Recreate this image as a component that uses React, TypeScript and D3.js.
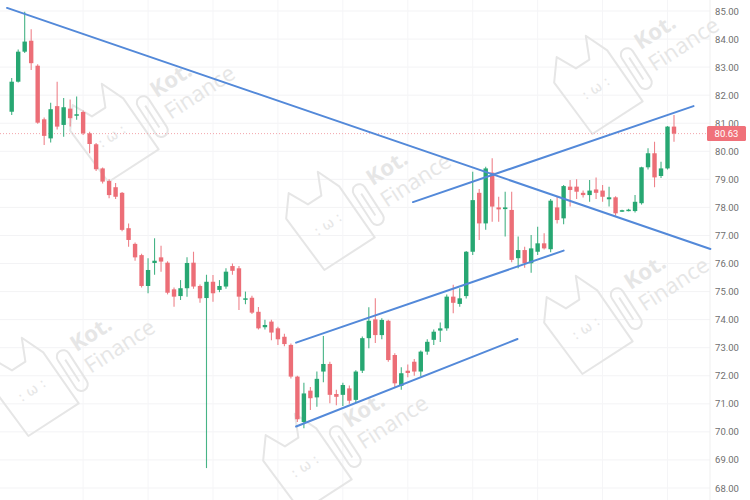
import React from 'react';
import { scaleLinear, line, range } from 'd3';

// candles (index = candle number)
const opens = [
  81.41, 82.48, 83.55, 83.94, 83.05, 81.14, 80.46, 81.61, 80.94, 81.52,
  81.28, 81.4, 80.64, 80.25, 79.39, 78.94, 78.72, 78.52, 77.26, 76.7,
  76.3, 75.2, 76.02, 76.22, 76.03, 75.08, 74.84, 75.12, 76.03, 75.2,
  74.77, 75.35, 75.06, 75.18, 75.91, 75.83, 74.72, 74.78, 74.28, 73.73,
  73.93, 73.69, 73.39, 73.1, 71.97, 70.35, 71.47, 71.23, 72.15, 72.42,
  71.35, 71.32, 71.55, 71.14, 72.18, 73.34, 74.01, 73.45, 73.96, 72.74,
  71.64, 72.18, 72.5, 72.15, 72.86, 73.28, 73.61, 73.69, 74.82, 74.56,
  74.84, 76.42, 78.52, 77.43, 79.24, 78.0, 77.94, 77.91, 76.19, 76.48,
  76.01, 76.42, 76.72, 76.51, 78.0, 77.61, 78.74, 78.74, 78.52, 78.44,
  78.64, 78.6, 78.29, 78.36, 77.86, 77.88, 77.87, 78.15, 79.43, 79.93,
  79.12, 79.39, 80.88,
];
const highs = [
  82.61, 83.63, 84.97, 84.35, 83.1, 81.2, 81.73, 82.48, 81.9, 81.85,
  81.95, 81.45, 80.7, 80.3, 79.42, 79.0, 78.87, 78.55, 77.43, 76.75,
  76.35, 76.19, 76.9, 76.63, 76.08, 75.15, 75.41, 76.22, 76.42, 75.25,
  75.6, 75.59, 75.41, 75.83, 76.0, 75.91, 75.0, 74.85, 74.45, 74.0,
  74.0, 73.75, 73.5, 73.15, 72.0, 71.75, 71.6, 72.15, 73.42, 72.5,
  71.5, 71.75, 71.65, 72.2, 73.4, 74.44, 74.76, 74.05, 74.0, 72.8,
  72.3, 72.4, 72.6, 72.9, 73.3, 73.65, 73.9, 74.9, 75.24, 75.12,
  76.45, 79.27, 78.66, 79.45, 79.75, 78.38, 78.56, 78.56, 76.96, 76.6,
  77.02, 77.31, 77.08, 78.3, 78.38, 78.8, 78.98, 79.0, 78.6, 78.98,
  79.07, 78.8, 78.74, 78.4, 77.92, 77.95, 78.44, 79.45, 80.11, 80.34,
  79.63, 80.9, 81.29,
];
const lows = [
  81.29, 82.45, 83.5, 82.9, 80.98, 80.22, 80.31, 80.78, 80.52, 80.88,
  81.12, 80.58, 79.93, 79.3, 78.85, 78.33, 78.3, 77.15, 76.6, 76.1,
  75.15, 74.94, 75.6, 75.71, 74.9, 74.46, 74.7, 74.82, 75.1, 74.6,
  68.71, 74.64, 74.98, 75.1, 75.6, 74.34, 74.55, 74.2, 73.65, 73.65,
  73.27, 73.1, 73.05, 71.9, 70.35, 70.13, 70.78, 70.9, 71.77, 71.02,
  70.95, 70.92, 71.0, 71.05, 72.1, 72.98, 73.17, 73.3, 72.5, 71.6,
  71.5, 71.95, 72.0, 71.97, 72.75, 73.1, 73.2, 73.6, 74.23, 74.46,
  74.75, 76.3, 76.84, 77.2, 77.49, 77.49, 76.96, 76.05, 75.83, 75.85,
  75.67, 76.3, 76.5, 76.4, 77.43, 77.4, 78.03, 78.3, 78.35, 78.2,
  78.3, 78.2, 78.03, 77.7, 77.84, 77.86, 77.82, 78.1, 79.35, 78.72,
  79.05, 79.35, 80.34,
];
const closes = [
  82.48, 83.55, 83.91, 83.14, 81.02, 80.55, 81.5, 80.88, 81.57, 81.18,
  81.32, 80.64, 80.26, 79.36, 78.92, 78.44, 78.38, 77.2, 76.84, 76.22,
  75.2, 75.77, 76.1, 76.07, 74.96, 74.82, 75.12, 76.02, 75.18, 74.76,
  75.35, 74.94, 75.2, 75.71, 75.74, 74.82, 74.76, 74.25, 73.69, 73.81,
  73.54, 73.3, 73.13, 71.97, 70.45, 71.37, 71.2, 71.89, 72.42, 71.32,
  71.25, 71.67, 71.11, 72.15, 73.34, 73.96, 73.45, 73.99, 72.56, 71.73,
  72.09, 72.1, 72.15, 72.86, 73.21, 73.57, 73.69, 74.82, 74.6, 74.76,
  76.42, 78.26, 77.43, 79.39, 78.03, 77.93, 78.0, 76.13, 76.48, 76.01,
  76.54, 76.72, 76.54, 78.24, 77.55, 78.76, 78.62, 78.56, 78.44, 78.6,
  78.52, 78.38, 78.36, 77.79, 77.9, 77.92, 78.2, 79.43, 79.93, 79.07,
  79.39, 80.88, 80.63,
];

const priceTicks = [85, 84, 83, 82, 81, 80, 79, 78, 77, 76, 75, 74, 73, 72, 71, 70, 69, 68];
const lastPrice = 80.63;

// drawn trend lines as [candle index, price]
const descendingLine: [number, number][] = [[-0.72, 85.11], [107.6, 76.52]];
const wedgeTopLine: [number, number][] = [[61.8, 78.19], [105.0, 81.61]];
const channelTopLine: [number, number][] = [[43.8, 73.18], [85.0, 76.46]];
const channelBottomLine: [number, number][] = [[43.8, 70.19], [77.9, 73.31]];
const trendLines = [descendingLine, wedgeTopLine, channelTopLine, channelBottomLine];

// watermark centres
const watermarks: [number, number][] = [[152, 106], [636, 58], [368, 194], [626, 298], [72, 360], [345, 436]];

const W = 750;
const H = 500;
const plotRight = 710;
const green = '#27a772';
const red = '#ec6e77';

const x = scaleLinear().domain([0, 102]).range([11.7, 674]);
const y = scaleLinear().domain([68, 85]).range([488, 11]);

const trendPath = line<[number, number]>()
  .x(d => x(d[0]))
  .y(d => y(d[1]));

function Watermark({ cx, cy }: { cx: number, cy: number }) {
  const c = '#e6e6e6';
  return (
    <g transform={`translate(${cx},${cy}) rotate(-33)`}>
      <path
        d="M -78,40 L -82,-24 L -66,-44 L -56,-24 L -40,-24 L -30,-46 L -20,-22 L -18,40 Z"
        fill="none" stroke={c} strokeWidth={2} strokeLinejoin="round" />
      <text x={-50} y={8} fontSize={14} fill={c} textAnchor="middle"
        fontFamily="DejaVu Sans">: ω :</text>
      <rect x={-12} y={-14} width={13} height={46} rx={6.5} fill="none" stroke={c} strokeWidth={2} />
      <line x1={-5.5} y1={-4} x2={-5.5} y2={22} stroke={c} strokeWidth={2} />
      <text x={8} y={-4} fontSize={22} fontWeight="bold" fill={c} fontFamily="Open Sans">Kot.</text>
      <text x={8} y={22} fontSize={22} fill={c} fontFamily="Open Sans">Finance</text>
    </g>
  );
}

export default function App() {
  const idx = range(opens.length);
  const vGrid = range(11, 103, 10);
  return (
    <div style={{ position: 'fixed', left: 0, top: 0 }}>
      <svg width={W} height={H} style={{ display: 'block', background: '#fff' }}>
        {/* grid */}
        {priceTicks.map(t => (
          <line key={'h' + t} x1={0} x2={plotRight} y1={y(t)} y2={y(t)} stroke="#f3f3f5" strokeWidth={1} />
        ))}
        {vGrid.map(i => (
          <line key={'v' + i} x1={x(i)} x2={x(i)} y1={0} y2={H} stroke="#f5f5f7" strokeWidth={1} />
        ))}
        <line x1={plotRight} x2={plotRight} y1={0} y2={H} stroke="#efefef" />

        {watermarks.map(([wx, wy], i) => <Watermark key={i} cx={wx} cy={wy} />)}

        {/* last price dotted line */}
        <line x1={0} x2={plotRight} y1={y(lastPrice)} y2={y(lastPrice)}
          stroke="#f3a6ab" strokeWidth={1} strokeDasharray="1 2" />

        {/* candles */}
        {idx.map(i => {
          const up = closes[i] >= opens[i];
          const col = up ? green : red;
          const top = y(Math.max(opens[i], closes[i]));
          const bot = y(Math.min(opens[i], closes[i]));
          const cx = x(i);
          return (
            <g key={i}>
              <line x1={cx} x2={cx} y1={y(highs[i])} y2={y(lows[i])} stroke={col} strokeWidth={1.1} opacity={0.85} />
              <rect x={cx - 2.2} y={top} width={4.4} height={Math.max(bot - top, 1.5)} fill={col} />
            </g>
          );
        })}

        {/* trend lines */}
        {trendLines.map((l, i) => (
          <path key={i} d={trendPath(l) || ''} fill="none" stroke="#5389d9" strokeWidth={2} strokeLinecap="round" />
        ))}

        {/* price axis */}
        {priceTicks.map(t => (
          <text key={'t' + t} x={727} y={y(t) + 3.5} fontSize={9.5} fill="#6f6f6f"
            textAnchor="middle" fontFamily="Roboto">{t.toFixed(2)}</text>
        ))}
        <rect x={707} y={y(lastPrice) - 7.5} width={39} height={15} rx={1.5} fill="#f0717a" />
        <text x={726.5} y={y(lastPrice) + 3.5} fontSize={9.5} fill="#fff"
          textAnchor="middle" fontFamily="Roboto">{lastPrice.toFixed(2)}</text>
      </svg>
    </div>
  );
}
